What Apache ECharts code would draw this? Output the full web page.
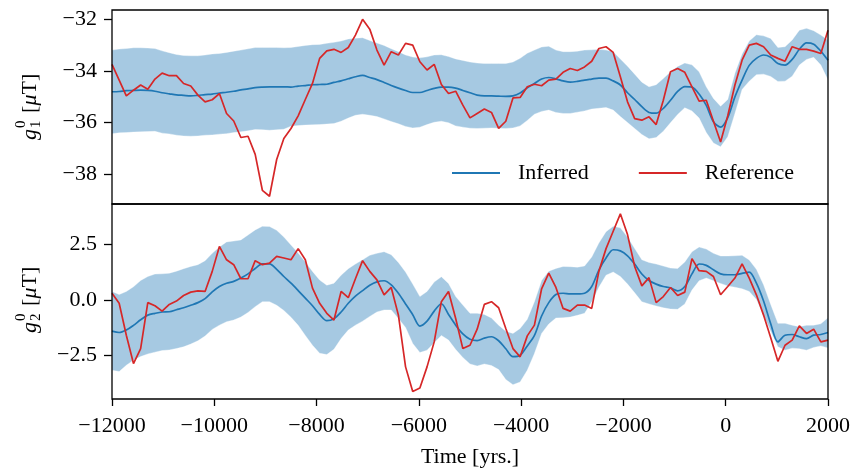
<!DOCTYPE html>
<html>
<head>
<meta charset="utf-8">
<script src="https://cdn.jsdelivr.net/npm/echarts@6/dist/echarts.min.js"></script>
<style>
  html, body { margin: 0; padding: 0; background: #fff; }
  #chart { width: 859px; height: 472px; }
</style>
</head>
<body>
<div id="chart"></div>
<script>
// time axis (years), one sample every 140 yrs
const years = [
  -12000, -11860, -11720, -11580, -11440, -11300, -11160, -11020, -10880, -10740,
  -10600, -10460, -10320, -10180, -10040, -9900, -9760, -9620, -9480, -9340,
  -9200, -9060, -8920, -8780, -8640, -8500, -8360, -8220, -8080, -7940,
  -7800, -7660, -7520, -7380, -7240, -7100, -6960, -6820, -6680, -6540,
  -6400, -6260, -6120, -5980, -5840, -5700, -5560, -5420, -5280, -5140,
  -5000, -4860, -4720, -4580, -4440, -4300, -4160, -4020, -3880, -3740,
  -3600, -3460, -3320, -3180, -3040, -2900, -2760, -2620, -2480, -2340,
  -2200, -2060, -1920, -1780, -1640, -1500, -1360, -1220, -1080, -940,
  -800, -660, -520, -380, -240, -100, 40, 180, 320, 460,
  600, 740, 880, 1020, 1160, 1300, 1440, 1580, 1720, 1860,
  2000
];

// g_1^0
const g1Reference = [
  -33.75, -34.36, -34.97, -34.75, -34.55, -34.71, -34.32, -34.09, -34.19, -34.19,
  -34.49, -34.59, -34.94, -35.20, -35.12, -34.88, -35.65, -35.94, -36.58, -36.53,
  -37.23, -38.62, -38.85, -37.43, -36.62, -36.23, -35.74, -35.11, -34.49, -33.52,
  -33.23, -33.17, -33.29, -33.10, -32.62, -32.01, -32.39, -33.20, -33.78, -33.26,
  -33.39, -32.94, -33.01, -33.65, -33.97, -33.75, -34.53, -34.88, -34.79, -35.33,
  -35.82, -35.65, -35.48, -35.61, -36.23, -35.95, -35.05, -35.03, -34.62, -34.52,
  -34.58, -34.36, -34.32, -34.06, -33.91, -33.99, -33.85, -33.63, -33.14, -33.07,
  -33.29, -34.23, -35.20, -35.85, -35.91, -35.78, -36.08, -35.14, -34.04, -33.91,
  -34.06, -34.62, -35.17, -35.14, -35.95, -36.75, -35.74, -34.55, -33.59, -33.01,
  -32.94, -33.07, -33.39, -33.52, -33.63, -33.07, -33.17, -33.17, -33.24, -33.33,
  -32.43
];
const g1Inferred = [
  -34.81, -34.80, -34.77, -34.76, -34.75, -34.76, -34.79, -34.85, -34.89, -34.93,
  -34.95, -34.97, -34.95, -34.92, -34.90, -34.86, -34.83, -34.79, -34.74, -34.70,
  -34.65, -34.63, -34.62, -34.62, -34.62, -34.63, -34.59, -34.57, -34.54, -34.53,
  -34.52, -34.45, -34.39, -34.31, -34.23, -34.18, -34.26, -34.34, -34.45, -34.57,
  -34.67, -34.76, -34.84, -34.84, -34.76, -34.68, -34.63, -34.63, -34.67, -34.76,
  -34.85, -34.94, -34.97, -34.97, -34.98, -34.99, -34.97, -34.86, -34.66, -34.49,
  -34.32, -34.26, -34.31, -34.39, -34.44, -34.41, -34.36, -34.32, -34.28, -34.28,
  -34.39, -34.55, -34.85, -35.11, -35.39, -35.61, -35.64, -35.45, -35.14, -34.80,
  -34.61, -34.63, -34.90, -35.34, -35.97, -36.18, -35.81, -35.01, -34.36, -33.79,
  -33.52, -33.39, -33.48, -33.72, -33.78, -33.56, -33.17, -32.92, -32.97, -33.24,
  -33.59
];
const g1Upper = [
  -33.20, -33.16, -33.14, -33.11, -33.11, -33.12, -33.14, -33.23, -33.30, -33.37,
  -33.41, -33.42, -33.42, -33.39, -33.35, -33.33, -33.29, -33.24, -33.20, -33.15,
  -33.10, -33.10, -33.10, -33.10, -33.11, -33.10, -33.06, -33.02, -32.99, -32.98,
  -32.94, -32.90, -32.85, -32.77, -32.74, -32.72, -32.83, -32.93, -33.02, -33.15,
  -33.26, -33.39, -33.47, -33.50, -33.46, -33.39, -33.38, -33.45, -33.54, -33.60,
  -33.66, -33.70, -33.72, -33.72, -33.72, -33.72, -33.66, -33.52, -33.32, -33.20,
  -33.08, -33.05, -33.20, -33.26, -33.26, -33.24, -33.20, -33.19, -33.17, -33.20,
  -33.26, -33.54, -33.82, -34.13, -34.44, -34.62, -34.54, -34.30, -34.04, -33.83,
  -33.70, -33.77, -34.04, -34.62, -35.07, -35.37, -35.11, -34.10, -33.35, -32.85,
  -32.61, -32.65, -32.75, -33.10, -33.07, -32.81, -32.43, -32.36, -32.45, -32.62,
  -32.81
];
const g1Lower = [
  -36.43, -36.40, -36.39, -36.37, -36.36, -36.35, -36.34, -36.41, -36.44, -36.49,
  -36.52, -36.53, -36.52, -36.49, -36.48, -36.45, -36.43, -36.39, -36.36, -36.32,
  -36.27, -36.28, -36.30, -36.28, -36.26, -36.14, -36.12, -36.10, -36.09, -36.08,
  -36.06, -36.04, -35.95, -35.83, -35.72, -35.68, -35.72, -35.77, -35.86, -35.96,
  -36.05, -36.15, -36.21, -36.18, -36.08, -35.99, -35.95, -36.01, -36.13, -36.18,
  -36.22, -36.23, -36.22, -36.21, -36.22, -36.23, -36.21, -36.13, -35.92, -35.68,
  -35.57, -35.52, -35.61, -35.65, -35.65, -35.60, -35.55, -35.48, -35.45, -35.42,
  -35.52, -35.77, -36.00, -36.23, -36.46, -36.63, -36.58, -36.34, -36.01, -35.69,
  -35.43, -35.55, -35.83, -36.39, -36.79, -36.94, -36.55, -35.65, -34.72, -34.40,
  -34.15, -34.13, -34.22, -34.41, -34.40, -34.21, -33.78, -33.56, -33.48, -33.78,
  -34.36
];

// g_2^0
const g2Reference = [
  0.30, -0.15, -1.58, -2.85, -2.18, -0.12, -0.26, -0.50, -0.20, -0.05,
  0.20, 0.35, 0.41, 0.38, 1.28, 2.40, 1.80, 1.58, 0.95, 0.95,
  1.76, 1.58, 1.65, 1.95, 1.88, 1.80, 2.30, 1.80, 0.53, -0.15,
  -0.60, -0.90, 0.38, 0.10, 0.95, 1.76, 1.28, 0.90, 0.23, 0.56,
  -0.68, -3.00, -4.10, -3.95, -3.00, -1.88, -0.08, 0.38, -0.83, -2.18,
  -2.03, -1.31, -0.20, -0.08, -0.35, -1.28, -2.18, -2.55, -1.61, -1.13,
  0.50, 1.20, 0.56, -0.38, -0.50, -0.23, -0.23, -0.38, 1.28, 2.30,
  3.08, 3.86, 2.93, 1.50, 0.63, 1.00, -0.12, 0.15, 0.56, 0.20,
  0.35, 1.85, 1.31, 1.28, 1.05, 0.23, 0.60, 0.98, 1.62, 0.98,
  0.23, -0.68, -1.70, -2.75, -2.03, -1.80, -1.16, -1.50, -1.31, -1.88,
  -1.80
];
const g2Inferred = [
  -1.40, -1.46, -1.35, -1.14, -0.89, -0.68, -0.60, -0.54, -0.53, -0.44,
  -0.35, -0.24, -0.12, 0.06, 0.36, 0.60, 0.75, 0.83, 0.98, 1.17,
  1.41, 1.62, 1.62, 1.37, 1.05, 0.75, 0.42, 0.08, -0.26, -0.65,
  -0.93, -0.84, -0.54, -0.15, 0.17, 0.42, 0.66, 0.81, 0.86, 0.68,
  0.30, -0.18, -0.66, -1.17, -0.95, -0.50, -0.17, -0.65, -1.13, -1.52,
  -1.76, -1.82, -1.71, -1.65, -1.83, -2.19, -2.54, -2.48, -2.06, -1.59,
  -0.72, -0.12, 0.24, 0.30, 0.27, 0.27, 0.30, 0.60, 1.34, 1.88,
  2.25, 2.20, 1.98, 1.61, 1.16, 0.87, 0.71, 0.60, 0.54, 0.41,
  0.60, 1.17, 1.61, 1.55, 1.35, 1.17, 1.13, 1.13, 1.19, 1.25,
  0.75, -0.05, -1.07, -1.88, -1.58, -1.55, -1.65, -1.73, -1.58, -1.55,
  -1.46
];
const g2Upper = [
  0.38, 0.24, 0.38, 0.59, 0.87, 1.05, 1.16, 1.17, 1.20, 1.29,
  1.40, 1.50, 1.58, 1.76, 2.09, 2.37, 2.60, 2.64, 2.69, 2.91,
  3.14, 3.30, 3.29, 3.12, 2.82, 2.46, 2.10, 1.71, 1.28, 0.89,
  0.66, 0.75, 1.11, 1.40, 1.61, 1.80, 2.00, 2.09, 2.16, 2.03,
  1.68, 1.25, 0.71, 0.15, 0.38, 0.80, 1.04, 0.74, 0.15, -0.23,
  -0.60, -0.60, -0.65, -0.81, -1.13, -1.40, -1.50, -1.28, -0.87, -0.08,
  0.87, 1.29, 1.41, 1.50, 1.49, 1.47, 1.52, 1.92, 2.55, 3.06,
  3.30, 3.23, 2.82, 2.30, 1.80, 1.68, 1.61, 1.52, 1.43, 1.41,
  1.70, 2.16, 2.37, 2.28, 2.09, 1.97, 1.97, 1.98, 2.00, 1.79,
  1.37, 0.68, -0.20, -1.05, -1.05, -1.13, -1.20, -1.14, -1.13, -1.07,
  -0.80
];
const g2Lower = [
  -3.15, -3.21, -2.93, -2.70, -2.54, -2.42, -2.34, -2.27, -2.24, -2.18,
  -2.10, -1.98, -1.83, -1.62, -1.32, -1.13, -0.98, -0.90, -0.77, -0.56,
  -0.30, -0.08, -0.08, -0.24, -0.47, -0.78, -1.14, -1.59, -2.03, -2.39,
  -2.45, -2.21, -1.73, -1.35, -1.13, -0.95, -0.74, -0.54, -0.45, -0.45,
  -0.83, -1.23, -1.95, -2.36, -2.25, -1.92, -1.59, -1.80, -2.22, -2.58,
  -2.87, -2.96, -2.87, -2.94, -3.12, -3.57, -3.80, -3.68, -3.15, -2.40,
  -1.50, -1.08, -0.81, -0.80, -0.77, -0.69, -0.60, -0.09, 0.57, 1.11,
  1.25, 1.05, 0.71, 0.32, -0.08, -0.18, -0.27, -0.35, -0.41, -0.42,
  -0.18, 0.44, 0.86, 0.98, 0.86, 0.74, 0.63, 0.57, 0.50, 0.38,
  0.02, -0.69, -1.40, -2.10, -2.25, -2.16, -2.19, -2.25, -2.13, -2.06,
  -2.15
];

const xTicks = [-12000, -10000, -8000, -6000, -4000, -2000, 0, 2000];
const g1Ticks = [-38, -36, -34, -32];
const g2Ticks = [-2.5, 0, 2.5];

const FONT = '"Liberation Serif", "Times New Roman", serif';
const BLUE = '#1f77b4';
const RED = '#d62728';
const BAND = '#a6c9e2';

const minus = s => String(s).replace('-', '\u2212');
const pairs = ys => years.map((x, i) => [x, ys[i]]);

// uncertainty band: one polygon, upper edge forward then lower edge back
function bandSeries(idx, lo, hi) {
  return {
    type: 'custom', xAxisIndex: idx, yAxisIndex: idx, silent: true, z: 1,
    data: years.map((x, i) => [x, lo[i], hi[i]]),
    encode: { x: 0, y: [1, 2] },
    renderItem: (params, api) => {
      if (params.dataIndex !== 0) return null;
      const top = years.map((x, i) => api.coord([x, hi[i]]));
      const bottom = years.map((x, i) => api.coord([x, lo[i]])).reverse();
      return {
        type: 'polygon',
        shape: { points: top.concat(bottom) },
        style: { fill: BAND, stroke: 'rgba(255,255,255,0.35)', lineWidth: 1 },
      };
    },
  };
}

function lineSeries(idx, name, ys, color, smooth) {
  return {
    name: name, type: 'line', xAxisIndex: idx, yAxisIndex: idx, data: pairs(ys),
    symbol: 'none', smooth: smooth, z: name === 'Reference' ? 4 : 3,
    lineStyle: { color: color, width: 1.7 }, itemStyle: { color: color },
  };
}

function yAxis(idx, min, max, ticks, digits) {
  return {
    type: 'value', gridIndex: idx, min: min, max: max,
    axisLine: { show: false, onZero: false },
    splitLine: { show: false },
    axisTick: { show: true, length: 8, customValues: ticks, lineStyle: { color: '#000', width: 1.3 } },
    axisLabel: {
      customValues: ticks, margin: 15, color: '#000', fontFamily: FONT, fontSize: 22,
      formatter: v => minus(Number(v).toFixed(digits)),
    },
  };
}

function yLabel(cx, cy, sub) {
  const txt = (x, y, text, font) => ({
    type: 'text', x: x, y: y,
    style: { text: text, font: font, fill: '#000', align: 'left', verticalAlign: 'middle' },
  });
  return {
    type: 'group', x: cx, y: cy, rotation: Math.PI / 2,
    children: [
      txt(-33, 0, 'g', 'italic 22px ' + FONT),
      txt(-21, -9, '0', '15px ' + FONT),
      txt(-21, 6, sub, '15px ' + FONT),
      txt(-6, 0, '[', '22px ' + FONT),
      txt(1.5, 0, '\u03bc', 'italic 22px ' + FONT),
      txt(12.5, 0, 'T]', '22px ' + FONT),
    ],
  };
}

const chart = echarts.init(document.getElementById('chart'), null, { renderer: 'canvas' });

const option = {
  animation: false,
  backgroundColor: '#fff',
  grid: [
    { left: 112, right: 31, top: 10, height: 194, show: true, z: 10,
      backgroundColor: 'transparent', borderColor: '#000', borderWidth: 1.3 },
    { left: 112, right: 31, top: 204, height: 195, show: true, z: 10,
      backgroundColor: 'transparent', borderColor: '#000', borderWidth: 1.3 },
  ],
  xAxis: [
    { type: 'value', gridIndex: 0, min: -12000, max: 2000, interval: 2000,
      axisLine: { show: false, onZero: false }, axisTick: { show: false }, axisLabel: { show: false },
      splitLine: { show: false } },
    { type: 'value', gridIndex: 1, min: -12000, max: 2000, interval: 2000,
      axisLine: { show: false, onZero: false }, splitLine: { show: false },
      axisTick: { show: true, length: 7, customValues: xTicks, lineStyle: { color: '#000', width: 1.3 } },
      axisLabel: { customValues: xTicks, margin: 16, color: '#000', fontFamily: FONT, fontSize: 22,
        formatter: v => minus(v) },
      name: 'Time [yrs.]', nameLocation: 'middle', nameGap: 47,
      nameTextStyle: { color: '#000', fontFamily: FONT, fontSize: 22 } },
  ],
  yAxis: [
    yAxis(0, -39.15, -31.65, g1Ticks, 0),
    yAxis(1, -4.44, 4.3, g2Ticks, 1),
  ],
  legend: {
    data: ['Inferred', 'Reference'],
    left: 447, top: 157,
    icon: 'rect', itemWidth: 48, itemHeight: 2, itemGap: 50,
    textStyle: { color: '#000', fontFamily: FONT, fontSize: 22, padding: [0, 0, 0, 13] },
  },
  graphic: [
    yLabel(30, 107, '1'),
    yLabel(30, 300, '2'),
  ],
  series: [
    bandSeries(0, g1Lower, g1Upper),
    bandSeries(1, g2Lower, g2Upper),
    lineSeries(0, 'Inferred', g1Inferred, BLUE, 0.3),
    lineSeries(0, 'Reference', g1Reference, RED, false),
    lineSeries(1, 'Inferred', g2Inferred, BLUE, 0.3),
    lineSeries(1, 'Reference', g2Reference, RED, false),
  ],
};

chart.setOption(option);
window.onresize = chart.resize;
</script>
</body>
</html>
